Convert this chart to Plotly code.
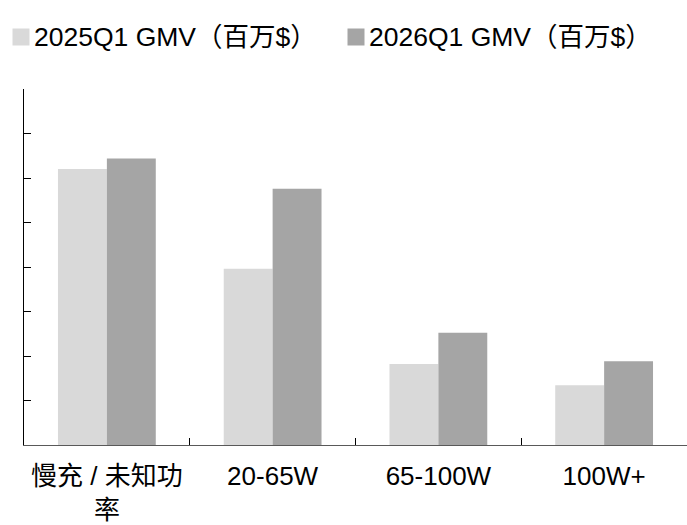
import plotly.graph_objects as go

# GMV by charging-power band (millions of USD)
categories = ["慢充 / 未知功<br>率", "20-65W", "65-100W", "100W+"]
gmv_2025q1 = [310, 198, 91, 67]
gmv_2026q1 = [322, 288, 126, 94]
series_names = ["2025Q1 GMV（百万$）", "2026Q1 GMV（百万$）"]
series_colors = ["#d9d9d9", "#a5a5a5"]
y_ticks = [0, 50, 100, 150, 200, 250, 300, 350, 400]

FONT = "Liberation Sans, Arial, Noto Sans CJK SC, sans-serif"

W, H = 687, 525
M_L, M_R, M_T, M_B = 24, 0, 89, 80
PLOT_W = W - M_L - M_R
PLOT_H = H - M_T - M_B


def px_x(px):
    """Page pixel column -> paper x."""
    return (px - M_L) / PLOT_W


def px_y(py):
    """Page pixel row -> paper y."""
    return (H - M_B - py) / PLOT_H


fig = go.Figure()
for name, vals, col in zip(series_names, [gmv_2025q1, gmv_2026q1], series_colors):
    fig.add_trace(go.Bar(x=categories, y=vals, name=name,
                         marker=dict(color=col, line=dict(width=0))))

# Legend row across the top: swatch + label per series
legend_left = [12.5, 347.5]
swatch = 17
row_mid = 37
for left, name, col in zip(legend_left, series_names, series_colors):
    fig.add_shape(type="rect", xref="paper", yref="paper",
                  x0=px_x(left), x1=px_x(left + swatch),
                  y0=px_y(row_mid + swatch / 2), y1=px_y(row_mid - swatch / 2),
                  fillcolor=col, line=dict(width=0), layer="above")
    fig.add_annotation(text=name, xref="paper", yref="paper",
                       x=px_x(left + swatch + 2), y=px_y(row_mid),
                       xanchor="left", yanchor="middle", showarrow=False,
                       font=dict(size=26.5, family=FONT, color="black"))

fig.update_layout(
    width=W, height=H,
    margin=dict(l=M_L, r=M_R, t=M_T, b=M_B, autoexpand=False),
    paper_bgcolor="white", plot_bgcolor="white",
    barmode="group", bargap=0.41, bargroupgap=0,
    font=dict(family=FONT, color="black", size=20),
    showlegend=False,
)

fig.update_xaxes(
    showline=True, linecolor="#595959", linewidth=1,
    ticks="inside", tickson="boundaries", ticklen=7, tickcolor="black",
    tickfont=dict(size=26, family=FONT, color="black"),
    ticklabelstandoff=8, automargin=False,
    showgrid=False, zeroline=False,
)
fig.update_yaxes(
    range=[0, 400], tickvals=y_ticks,
    showline=True, linecolor="black", linewidth=1,
    ticks="inside", ticklen=7, tickcolor="black",
    tickfont=dict(size=20, family=FONT, color="black"),
    ticklabelstandoff=22, automargin=False,
    showgrid=False, zeroline=False,
)

fig.write_html("out.html")
